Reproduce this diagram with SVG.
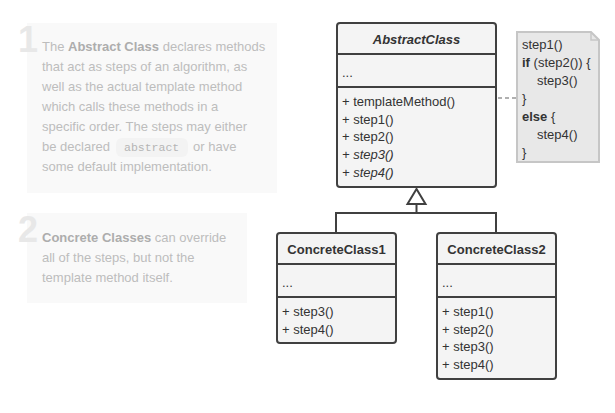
<svg xmlns="http://www.w3.org/2000/svg" width="615" height="413" viewBox="0 0 615 413">
  <style>
    .panel { fill: #f9f9f9; }
    .num { font-family: "Liberation Sans", Arial, sans-serif; font-weight: bold; font-size: 36px; fill: #e8e8e8; }
    .desc { font-family: "Liberation Sans", Arial, sans-serif; font-size: 13px; fill: #bdbdbd; }
    .desc .b { font-weight: bold; fill: #adadad; }
    .code { font-family: "Liberation Mono", "Courier New", monospace; font-size: 11.5px; fill: #b5b5b5; }
    .codebg { fill: #f3f3f3; }
    .box { fill: #f4f4f4; stroke: #404040; stroke-width: 2; }
    .sep { stroke: #404040; stroke-width: 2; }
    .title { font-family: "Liberation Sans", Arial, sans-serif; font-size: 13px; font-weight: bold; fill: #333; text-anchor: middle; }
    .mem { font-family: "Liberation Sans", Arial, sans-serif; font-size: 13px; fill: #333; }
    .it { font-style: italic; }
    .note { fill: #e8e8e8; stroke: #c6c6c6; stroke-width: 2; }
    .line { fill: none; stroke: #404040; stroke-width: 2; }
    .dash { fill: none; stroke: #b0b0b0; stroke-width: 2; stroke-dasharray: 4 3; }
  </style>

  <!-- explanation panels -->
  <g id="panel-1">
    <rect class="panel" x="27" y="23" width="250" height="170"/>
    <text class="num" x="18" y="52">1</text>
    <rect class="codebg" x="116" y="138" width="72" height="19" rx="6"/>
    <text class="desc" x="42" y="51">The <tspan class="b">Abstract Class</tspan> declares methods</text>
    <text class="desc" x="42" y="71">that act as steps of an algorithm, as</text>
    <text class="desc" x="42" y="91">well as the actual template method</text>
    <text class="desc" x="42" y="111">which calls these methods in a</text>
    <text class="desc" x="42" y="131">specific order. The steps may either</text>
    <text class="desc" x="42" y="151">be declared</text>
    <text class="code" x="124" y="151">abstract</text>
    <text class="desc" x="193" y="151">or have</text>
    <text class="desc" x="42" y="171">some default implementation.</text>
  </g>

  <g id="panel-2">
    <rect class="panel" x="27" y="213" width="220" height="90"/>
    <text class="num" x="18" y="242">2</text>
    <text class="desc" x="42" y="242"><tspan class="b">Concrete Classes</tspan> can override</text>
    <text class="desc" x="42" y="262">all of the steps, but not the</text>
    <text class="desc" x="42" y="282">template method itself.</text>
  </g>

  <!-- connectors -->
  <g id="connectors">
    <path class="line" d="M416.5 204 V213 M336 233 V213 H496 V233"/>
    <path class="line" d="M416.5 189 L407.5 204 H425.5 Z" fill="#fff"/>
    <path class="dash" d="M498 98 H516"/>
  </g>

  <!-- abstract base class -->
  <g id="abstract-class">
    <rect class="box" x="337" y="23" width="159" height="164" rx="3"/>
    <path class="sep" d="M337 54 H496 M337 87 H496"/>
    <text class="title it" x="416.5" y="44">AbstractClass</text>
    <text class="mem" x="342" y="77">...</text>
    <text class="mem" x="342" y="106">+ templateMethod()</text>
    <text class="mem" x="342" y="123.7">+ step1()</text>
    <text class="mem" x="342" y="141.4">+ step2()</text>
    <text class="mem it" x="342" y="159.1">+ step3()</text>
    <text class="mem it" x="342" y="176.8">+ step4()</text>
  </g>

  <!-- note with the template method body -->
  <g id="template-note">
    <path class="note" d="M517 32 H591 L599 40 V162 H517 Z"/>
    <path d="M591 32 V40 H599" fill="none" stroke="#c6c6c6" stroke-width="1.5"/>
    <text class="mem" x="522" y="49">step1()</text>
    <text class="mem" x="522" y="67"><tspan font-weight="bold">if</tspan> (step2()) {</text>
    <text class="mem" x="537" y="85">step3()</text>
    <text class="mem" x="522" y="103">}</text>
    <text class="mem" x="522" y="121"><tspan font-weight="bold">else</tspan> {</text>
    <text class="mem" x="537" y="139">step4()</text>
    <text class="mem" x="522" y="157">}</text>
  </g>

  <!-- concrete subclasses -->
  <g id="concrete-class-1">
    <rect class="box" x="277" y="233" width="119" height="110" rx="3"/>
    <path class="sep" d="M277 264 H396 M277 297 H396"/>
    <text class="title" x="336.5" y="254">ConcreteClass1</text>
    <text class="mem" x="282" y="287">...</text>
    <text class="mem" x="282" y="316">+ step3()</text>
    <text class="mem" x="282" y="333.7">+ step4()</text>
  </g>

  <g id="concrete-class-2">
    <rect class="box" x="437" y="233" width="119" height="146" rx="3"/>
    <path class="sep" d="M437 264 H556 M437 297 H556"/>
    <text class="title" x="496.5" y="254">ConcreteClass2</text>
    <text class="mem" x="442" y="287">...</text>
    <text class="mem" x="442" y="316">+ step1()</text>
    <text class="mem" x="442" y="333.7">+ step2()</text>
    <text class="mem" x="442" y="351.4">+ step3()</text>
    <text class="mem" x="442" y="369.1">+ step4()</text>
  </g>
</svg>
